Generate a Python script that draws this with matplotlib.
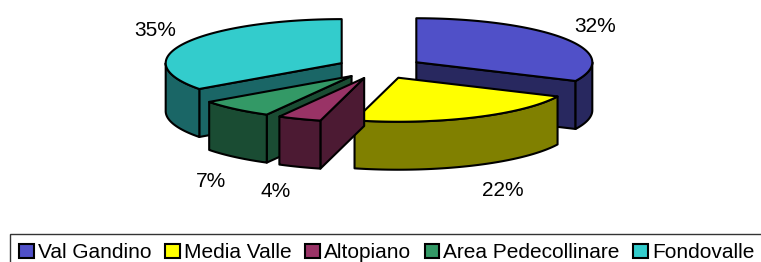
import numpy as np
import matplotlib.pyplot as plt
from matplotlib.patches import Polygon, Patch

plt.rcParams['font.family'] = ['Liberation Sans', 'DejaVu Sans']

labels = ['Val Gandino', 'Media Valle', 'Altopiano', 'Area Pedecollinare', 'Fondovalle']
values = [32, 22, 4, 7, 35]
top_colors = ['#5050C8', '#FFFF00', '#993366', '#339966', '#33CCCC']
side_colors = ['#28285F', '#808000', '#4C1A33', '#1A4C33', '#1A6666']

# pie geometry in pixel space
cx, cy = 380, 68
R = 176
ratio = 0.25
depth = 48
explode = 43
lw = 1.5
fs = 15


def pt(theta, r, ox, oy, z=0.0):
    return ox + r * np.sin(theta), oy - r * ratio * np.cos(theta) + z


def arc(t_a, t_b, ox, oy, z=0.0, n=80):
    ts = np.linspace(t_a, t_b, n)
    return [pt(t, R, ox, oy, z) for t in ts]


fig = plt.figure(figsize=(7.61, 2.62), dpi=100)
ax = fig.add_axes([0, 0, 1, 1])
ax.set_xlim(0, 761)
ax.set_ylim(262, 0)
ax.axis('off')

total = float(sum(values))
bounds = np.concatenate([[0], np.cumsum(values)]) / total * 2 * np.pi
slices = []
for i in range(len(values)):
    t1, t2 = bounds[i], bounds[i + 1]
    mid = (t1 + t2) / 2
    slices.append((np.cos(mid), i, t1, t2, mid))

for _, i, t1, t2, mid in sorted(slices, key=lambda s: -s[0]):
    ox = cx + explode * np.sin(mid)
    oy = cy - explode * ratio * np.cos(mid)
    kw = dict(edgecolor='black', linewidth=lw, joinstyle='round')
    # radial side faces
    for t, vis in ((t1, np.sin(t1) < -1e-6), (t2, np.sin(t2) > 1e-6)):
        if vis:
            a = (ox, oy)
            b = pt(t, R, ox, oy)
            face = [a, b, (b[0], b[1] + depth), (a[0], a[1] + depth)]
            ax.add_patch(Polygon(face, closed=True, facecolor=side_colors[i], **kw))
    # outer wall (front half only)
    wa, wb = max(t1, np.pi / 2), min(t2, 3 * np.pi / 2)
    if wb > wa:
        wall = arc(wa, wb, ox, oy) + arc(wb, wa, ox, oy, depth)
        ax.add_patch(Polygon(wall, closed=True, facecolor=side_colors[i], **kw))
    # top face
    top = [(ox, oy)] + arc(t1, t2, ox, oy)
    ax.add_patch(Polygon(top, closed=True, facecolor=top_colors[i], **kw))

    # percentage label, placed just outside the rim
    front = np.cos(mid) < 0
    lx, ly = pt(mid, R, ox, oy, depth if front else 0)
    right = np.sin(mid) > 0
    lx += 9 if right else -9
    ly += 15 if front else -3
    ax.text(lx, ly, '{:.0f}%'.format(values[i] / total * 100),
            ha='left' if right else 'right', va='top' if front else 'bottom',
            fontsize=fs, color='black')

handles = [Patch(facecolor=c, edgecolor='black', linewidth=1.5) for c in top_colors]
leg = fig.legend(handles, labels, loc='upper left', bbox_to_anchor=(10 / 761, 1 - 234 / 262),
                 ncol=5, fontsize=fs, frameon=True, fancybox=False, borderaxespad=0,
                 handlelength=0.7, handleheight=0.7, handletextpad=0.2, columnspacing=0.65,
                 borderpad=0.45)
leg.get_frame().set_edgecolor('black')
leg.get_frame().set_linewidth(1.0)

fig.savefig('out.png', dpi=100)
